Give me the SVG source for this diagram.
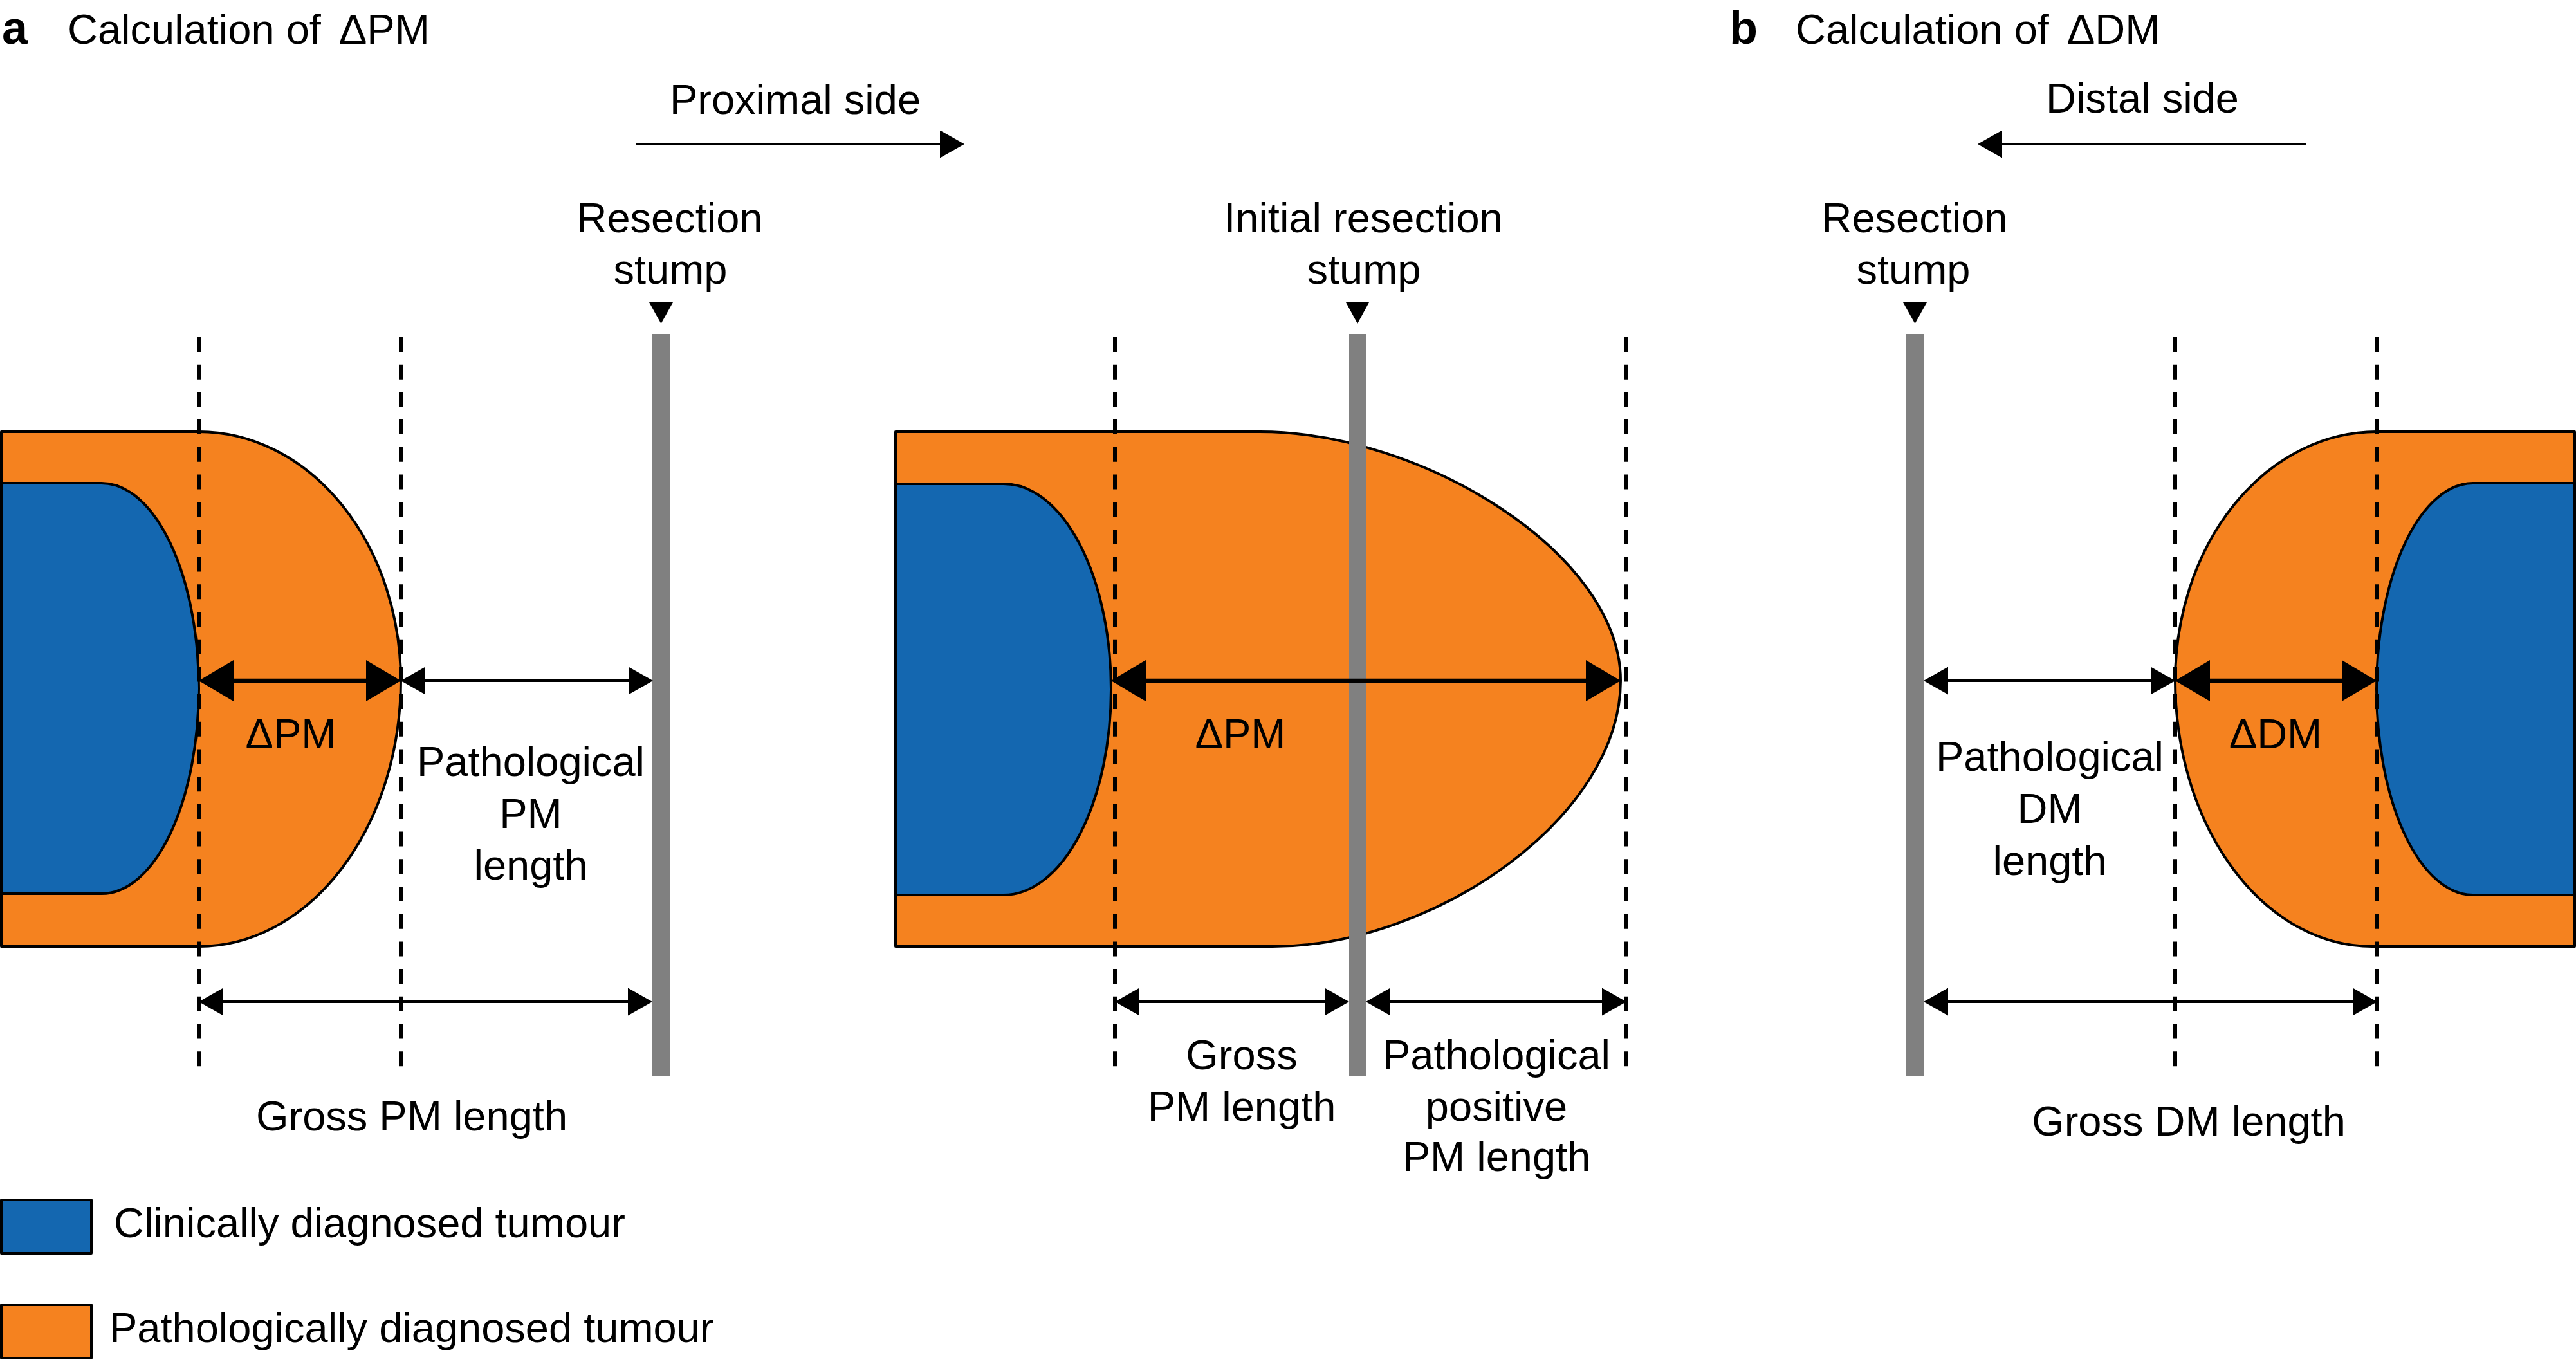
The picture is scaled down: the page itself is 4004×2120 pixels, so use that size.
<svg xmlns="http://www.w3.org/2000/svg" width="4004" height="2120" viewBox="0 0 4004 2120">
<style>
text{font-family:"Liberation Sans",Arial,sans-serif;font-size:65px;fill:#000}
.c{text-anchor:middle}
.b{font-weight:bold;font-size:72px}
.or{fill:#F5821F;stroke:#000;stroke-width:4;stroke-linejoin:round}
.bl{fill:#1467B0;stroke:#000;stroke-width:4;stroke-linejoin:round}
.dash{stroke:#000;stroke-width:6;stroke-dasharray:23 19.7;fill:none}
.bar{fill:#808080}
.thin{stroke:#000;stroke-width:4;fill:none;marker-start:url(#hThin);marker-end:url(#hThin)}
.one{stroke:#000;stroke-width:4;fill:none;marker-end:url(#hThin)}
.thick{stroke:#000;stroke-width:6.5;fill:none;marker-start:url(#hThick);marker-end:url(#hThick)}
.tri{fill:#000}
</style>
<defs>
<marker id="hThin" markerUnits="userSpaceOnUse" markerWidth="38" markerHeight="43" viewBox="0 0 38 43" refX="33" refY="21.5" orient="auto-start-reverse"><path d="M0,0 L38,21.5 L0,43 Z" fill="#000"/></marker>
<marker id="hThick" markerUnits="userSpaceOnUse" markerWidth="54" markerHeight="64" viewBox="0 0 54 64" refX="46" refY="32" orient="auto-start-reverse"><path d="M0,0 L54,32 L0,64 Z" fill="#000"/></marker>
</defs>
<rect width="4004" height="2120" fill="#fff"/>

<g id="titles">
<text class="b" x="3" y="68">a</text>
<text x="105" y="68">Calculation of <tspan dx="10">ΔPM</tspan></text>
<text class="b" x="2688" y="68">b</text>
<text x="2791" y="68">Calculation of <tspan dx="10">ΔDM</tspan></text>
</g>

<g id="direction-proximal">
<text class="c" x="1236" y="177">Proximal side</text>
</g>
<g id="direction-distal">
<text class="c" x="3330" y="175">Distal side</text>
</g>

<g id="panel-a-left-tumour">
<path class="or" d="M2,671 L309,671 A314,387 0 0 1 623,1058 A314,413 0 0 1 309,1471 L2,1471 Z"/>
<path class="bl" d="M2,751 L158,751 A151,319 0 0 1 309,1070 A151,319 0 0 1 158,1389 L2,1389 Z"/>
</g>

<g id="panel-a-middle-tumour">
<path class="or" d="M1392,671 L1958,671 C2210,671 2519,860 2519,1058 C2519,1270 2230,1471 1978,1471 L1392,1471 Z"/>
<path class="bl" d="M1392,752 L1560,752 A167,319.5 0 0 1 1727,1071 A167,319.5 0 0 1 1560,1391 L1392,1391 Z"/>
</g>

<g id="panel-b-tumour">
<path class="or" d="M4002,671 L3694,671 A313,387 0 0 0 3381,1058 A306,413 0 0 0 3687,1471 L4002,1471 Z"/>
<path class="bl" d="M4002,751 L3844,751 A150,320 0 0 0 3694,1071 A150,320 0 0 0 3844,1391 L4002,1391 Z"/>
</g>

<g id="guides">
<line class="dash" x1="309" y1="524" x2="309" y2="1672"/>
<line class="dash" x1="623" y1="524" x2="623" y2="1672"/>
<line class="dash" x1="1733" y1="524" x2="1733" y2="1672"/>
<line class="dash" x1="2527" y1="524" x2="2527" y2="1672"/>
<line class="dash" x1="3381" y1="524" x2="3381" y2="1672"/>
<line class="dash" x1="3695" y1="524" x2="3695" y2="1672"/>
</g>

<g id="stump-a-left">
<rect class="bar" x="1014" y="519" width="27" height="1153"/>
<polygon class="tri" points="1009,470 1046,470 1027.5,503"/>
<text class="c" x="1041" y="361">Resection</text>
<text class="c" x="1042" y="441">stump</text>
</g>

<g id="stump-a-middle">
<rect class="bar" x="2097" y="519" width="26" height="1153"/>
<polygon class="tri" points="2092,470 2128,470 2110,503"/>
<text class="c" x="2119" y="361">Initial resection</text>
<text class="c" x="2120" y="441">stump</text>
</g>

<g id="stump-b">
<rect class="bar" x="2963" y="519" width="27" height="1153"/>
<polygon class="tri" points="2958,470 2995,470 2976.5,503"/>
<text class="c" x="2976" y="361">Resection</text>
<text class="c" x="2974" y="441">stump</text>
</g>

<g id="connectors">
<path class="one" d="M988,224 L1494,224"/>
<path class="one" d="M3584,224 L3079,224"/>
<path class="thick" d="M317,1058 L615,1058"/>
<path class="thin" d="M628,1058 L1010,1058"/>
<path class="thin" d="M314,1557 L1009,1557"/>
<path class="thick" d="M1735,1058 L2511,1058"/>
<path class="thin" d="M1738,1557 L2092,1557"/>
<path class="thin" d="M2128,1557 L2523,1557"/>
<path class="thin" d="M2995,1058 L3376,1058"/>
<path class="thick" d="M3389,1058 L3686,1058"/>
<path class="thin" d="M2995,1557 L3690,1557"/>
</g>

<g id="labels">
<text class="c" x="452" y="1163">ΔPM</text>
<text class="c" x="825" y="1206">Pathological</text>
<text class="c" x="825" y="1287">PM</text>
<text class="c" x="825" y="1367">length</text>
<text class="c" x="640" y="1757">Gross PM length</text>
<text class="c" x="1928" y="1163">ΔPM</text>
<text class="c" x="1930" y="1662">Gross</text>
<text class="c" x="1930" y="1742">PM length</text>
<text class="c" x="2326" y="1662">Pathological</text>
<text class="c" x="2326" y="1742">positive</text>
<text class="c" x="2326" y="1820">PM length</text>
<text class="c" x="3537" y="1163">ΔDM</text>
<text class="c" x="3186" y="1198">Pathological</text>
<text class="c" x="3186" y="1279">DM</text>
<text class="c" x="3186" y="1360">length</text>
<text class="c" x="3402" y="1765">Gross DM length</text>
</g>

<g id="legend-clinical">
<rect class="bl" x="2" y="1865" width="140" height="83"/>
<text x="177" y="1923">Clinically diagnosed tumour</text>
</g>
<g id="legend-pathological">
<rect class="or" x="2" y="2028" width="140" height="83"/>
<text x="170" y="2086">Pathologically diagnosed tumour</text>
</g>
</svg>
